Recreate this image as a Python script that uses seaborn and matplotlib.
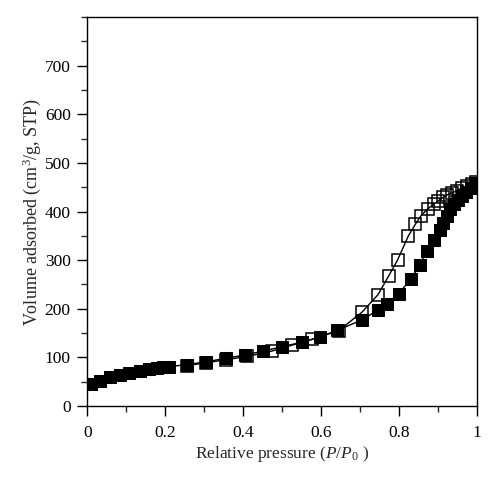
import pandas as pd
import seaborn as sns
import matplotlib
matplotlib.use("Agg")
import matplotlib.pyplot as plt
from matplotlib.ticker import MultipleLocator

# adsorption branch (filled squares)
ads_p = [0.009, 0.033, 0.058, 0.084, 0.108, 0.135, 0.158, 0.178, 0.195, 0.21,
         0.255, 0.305, 0.355, 0.405, 0.452, 0.50, 0.55, 0.598, 0.642, 0.705,
         0.745, 0.768, 0.799, 0.831, 0.854, 0.871, 0.889, 0.904, 0.913, 0.923,
         0.931, 0.94, 0.95, 0.961, 0.972, 0.984, 0.997]
ads_v = [45, 52, 59, 64, 67.5, 72, 76, 78, 80, 81,
         85, 91, 98, 105, 113, 122, 131, 142, 156, 177,
         197, 209, 231, 262, 291, 319, 342, 362, 377, 391,
         405, 415, 424, 432, 441, 448, 458]

# desorption branch (open squares)
des_p = [0.255, 0.305, 0.355, 0.41, 0.474, 0.525, 0.576, 0.645, 0.705, 0.746,
         0.773, 0.796, 0.824, 0.842, 0.856, 0.873, 0.889, 0.901, 0.913, 0.923,
         0.936, 0.948, 0.961, 0.974, 0.987, 0.997]
des_v = [83, 89, 95, 102, 113, 125, 137, 155, 193, 229,
         267, 300, 350, 374, 391, 405, 415, 422, 429, 434,
         438, 443, 448, 452, 457, 460]

ads = pd.DataFrame({"p": ads_p, "v": ads_v})
des = pd.DataFrame({"p": des_p, "v": des_v})

sns.set_style("ticks")
plt.rcParams["font.family"] = ["Liberation Serif", "DejaVu Serif"]
plt.rcParams["mathtext.fontset"] = "custom"
plt.rcParams["mathtext.rm"] = "Liberation Serif"
plt.rcParams["mathtext.it"] = "Liberation Serif:italic"

fig = plt.figure(figsize=(5, 4.79), dpi=100)
ax = fig.add_axes([0.1746, 0.1524, 0.7794, 0.8121])

sns.lineplot(data=des, x="p", y="v", ax=ax, sort=False, color="black", lw=1,
             marker="s", markersize=8.5, markerfacecolor="none",
             markeredgecolor="black", markeredgewidth=1.1)
sns.lineplot(data=ads, x="p", y="v", ax=ax, sort=False, color="black", lw=1,
             marker="s", markersize=8.5, markerfacecolor="black",
             markeredgecolor="black")

ax.set_xlim(0, 1)
ax.set_ylim(0, 800)
ax.xaxis.set_minor_locator(MultipleLocator(0.1))
ax.yaxis.set_minor_locator(MultipleLocator(50))
ax.set_yticks(range(0, 701, 100))
ax.set_xticks([0, 0.2, 0.4, 0.6, 0.8, 1.0])
ax.set_xticklabels(["0", "0.2", "0.4", "0.6", "0.8", "1"])
ax.tick_params(which="major", direction="out", length=7, width=1, labelsize=12.5,
               colors="black", top=False, right=False)
ax.tick_params(axis="x", which="major", pad=7)
ax.tick_params(axis="y", which="major", pad=5)
ax.tick_params(which="minor", direction="out", length=4, width=1,
               top=False, right=False)
for s in ax.spines.values():
    s.set_linewidth(1)
    s.set_color("black")

ax.set_xlabel(r"Relative pressure ($P/P_0$ )", fontsize=12.5, labelpad=2)
ax.set_ylabel(r"Volume adsorbed (cm$^3$/g, STP)", fontsize=13, labelpad=1)

fig.savefig("out.png", dpi=100)
